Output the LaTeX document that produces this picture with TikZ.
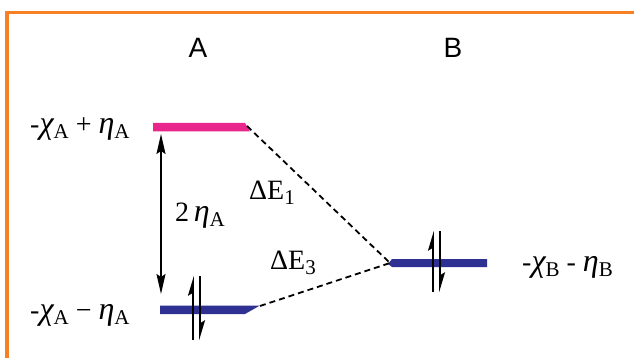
\documentclass[tikz,border=0pt]{standalone}
\usepackage{fontspec}
\setmainfont{Liberation Serif}
\newfontfamily\sansA{Liberation Sans}
\usetikzlibrary{arrows.meta}
\definecolor{frameor}{RGB}{247,128,37}
\definecolor{pinkbar}{RGB}{232,38,140}
\definecolor{bluebar}{RGB}{46,49,146}
\newcommand\sbs[1]{\raisebox{-5pt}{\fontsize{21}{21}\selectfont #1}}
\newcommand\gk[1]{{\fontsize{32}{32}\selectfont\itshape #1}}
\tikzset{
  lbl/.style={inner sep=0pt, anchor=base west, font=\fontsize{28}{32}\selectfont},
  sidelbl/.style={inner sep=0pt, anchor=base, font=\sansA\fontsize{28}{32}\selectfont},
  dashline/.style={dashed, dash pattern=on 6pt off 4pt, line width=1.8pt},
  spin/.style={line width=1.6pt, -{Stealth[harpoon, length=17pt, width=10pt, inset=3pt]}},
  dbl/.style={line width=1.6pt, {Stealth[length=20pt,width=9pt,inset=3pt]}-{Stealth[length=20pt,width=9pt,inset=3pt]}}
}
\begin{document}
\begin{tikzpicture}[x=1pt,y=-1pt]
\useasboundingbox (0,0) rectangle (634,358);
\fill[white] (0,0) rectangle (634,358);
% frame
\draw[frameor, line width=3.5pt] (7,360) -- (7,12.5) -- (636,12.5);
% labels A B
\node[sidelbl] (labA) at (198,58) {A};
\node[sidelbl] (labB) at (453,58) {B};
% bars
\fill[pinkbar] (153,123) -- (245,123) -- (250,131.5) -- (153,131.5) -- cycle;
\fill[bluebar] (160,305.5) -- (260,305.5) -- (245,314) -- (160,314) -- cycle;
\fill[bluebar] (392,259) -- (487,259) -- (487,267) -- (392,267) -- (388,264) -- cycle;
\coordinate (pR) at (247,126);
\coordinate (aR) at (260,306);
\coordinate (bL) at (390,263);
\draw[dashline] (pR) -- (bL);
\draw[dashline] (aR) -- (bL);
% double arrow
\coordinate (dTop) at (161,134);
\coordinate (dBot) at (161,294);
\draw[dbl] (dTop) -- (dBot);
% spins A
\coordinate (sA1) at (193,340);
\coordinate (sA1t) at (193,276);
\coordinate (sA2) at (200,276);
\coordinate (sA2b) at (200,340);
\draw[spin] (sA1) -- (sA1t);
\draw[spin] (sA2) -- (sA2b);
% spins B
\coordinate (sB1) at (433,292);
\coordinate (sB1t) at (433,231);
\coordinate (sB2) at (440,231);
\coordinate (sB2b) at (440,292);
\draw[spin] (sB1) -- (sB1t);
\draw[spin] (sB2) -- (sB2b);
% text labels
\node[lbl] (topA) at (30,134) {-\gk{χ}\sbs{A} + \gk{η}\sbs{A}};
\node[lbl] (botA) at (30,319) {-\gk{χ}\sbs{A} − \gk{η}\sbs{A}};
\node[lbl] (twoeta) at (175,222) {2\,\gk{η}\sbs{A}};
\node[lbl] (dE1) at (249,200) {ΔE\sbs{1}};
\node[lbl] (dE3) at (270,269) {ΔE\sbs{3}};
\node[lbl] (labBB) at (522,271) {-\gk{χ}\sbs{B} - \gk{η}\sbs{B}};
\end{tikzpicture}
\end{document}
